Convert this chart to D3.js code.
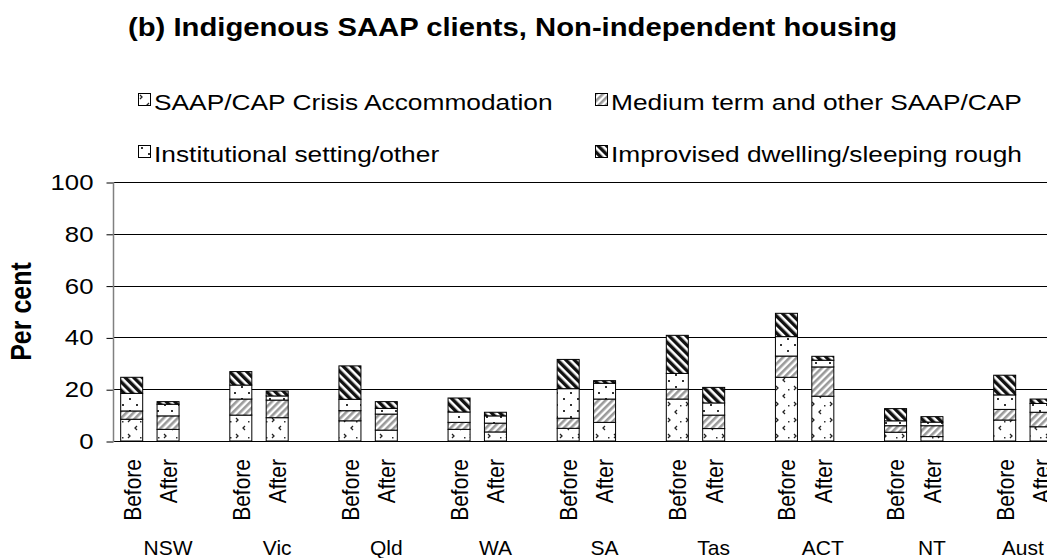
<!DOCTYPE html>
<html>
<head>
<meta charset="utf-8">
<script src="https://cdn.jsdelivr.net/npm/d3@7"></script>
<style>
  body { margin: 0; background: #fff; }
  svg { display: block; font-family: "Liberation Sans", Arial, sans-serif; }
</style>
</head>
<body>
<div class="chart"></div>
<script>
// Indigenous SAAP clients, non-independent housing: before / after support
let states = ["NSW", "Vic", "Qld", "WA", "SA", "Tas", "ACT", "NT", "Aust"];
let periods = ["Before", "After"];
let seriesNames = ["SAAP/CAP Crisis Accommodation", "Medium term and other SAAP/CAP",
                   "Institutional setting/other", "Improvised dwelling/sleeping rough"];
let yTicks = [0, 20, 40, 60, 80, 100];

// values per state, Before then After (per cent)
let crisis        = [8.4, 4.5, 10.0, 9.0, 7.8, 4.2, 4.5, 3.5, 4.9, 7.2, 16.2, 4.8, 24.6, 17.3, 3.4, 1.7, 8.1, 5.5];
let medium        = [3.2, 5.2, 6.2, 6.8, 3.9, 6.2, 2.7, 3.4, 3.9, 9.0, 3.8, 5.2, 8.2, 11.3, 2.5, 4.2, 4.1, 5.6];
let institutional = [6.8, 4.5, 5.4, 1.6, 4.4, 2.2, 4.0, 2.8, 11.4, 6.1, 6.1, 4.7, 7.5, 2.6, 1.9, 1.4, 5.6, 3.4];
let improvised    = [6.2, 1.0, 5.2, 1.9, 12.9, 2.6, 5.4, 1.4, 11.3, 1.0, 14.7, 6.0, 9.0, 1.5, 4.7, 2.1, 7.6, 1.7];

let svgWidth = 1047;
let svgHeight = 558;
let SX = 1.17; // text in the original is a little stretched horizontally

let svg = d3.select(".chart")
  .append("svg")
  .attr("width", svgWidth)
  .attr("height", svgHeight);

// patterns
let defs = svg.append("defs");

let pCrisis = defs.append("pattern").attr("id", "p0")
  .attr("patternUnits", "userSpaceOnUse").attr("width", 18).attr("height", 16);
pCrisis.append("rect").attr("width", 18).attr("height", 16).attr("fill", "#fff");
pCrisis.append("path").attr("d", "M2,2 L4,4 L2,6 M11,10 L9,12 L11,14")
  .attr("stroke", "#222").attr("stroke-width", 1.3).attr("fill", "none");
pCrisis.append("rect").attr("x", 14).attr("y", 5).attr("width", 1.5).attr("height", 1.5).attr("fill", "#333");

let pMedium = defs.append("pattern").attr("id", "p1")
  .attr("patternUnits", "userSpaceOnUse").attr("width", 5).attr("height", 5)
  .attr("patternTransform", "rotate(45)");
pMedium.append("rect").attr("width", 5).attr("height", 5).attr("fill", "#fff");
pMedium.append("rect").attr("width", 2.6).attr("height", 5).attr("fill", "#9a9a9a");

let pInst = defs.append("pattern").attr("id", "p2")
  .attr("patternUnits", "userSpaceOnUse").attr("width", 14).attr("height", 12);
pInst.append("rect").attr("width", 14).attr("height", 12).attr("fill", "#fff");
pInst.append("rect").attr("x", 3).attr("y", 2).attr("width", 2).attr("height", 2).attr("fill", "#333");
pInst.append("rect").attr("x", 10).attr("y", 8).attr("width", 2).attr("height", 2).attr("fill", "#333");

let pImpro = defs.append("pattern").attr("id", "p3")
  .attr("patternUnits", "userSpaceOnUse").attr("width", 6).attr("height", 6)
  .attr("patternTransform", "rotate(-45)");
pImpro.append("rect").attr("width", 6).attr("height", 6).attr("fill", "#fff");
pImpro.append("rect").attr("width", 3.4).attr("height", 6).attr("fill", "#111");

// title
svg.append("text")
  .attr("transform", `translate(128, 36) scale(${SX},1)`)
  .attr("font-size", 25)
  .attr("font-weight", "bold")
  .text("(b) Indigenous SAAP clients, Non-independent housing");

// legend
let legendPos = [[138, 93], [595, 93], [138, 145], [595, 145]];
seriesNames.forEach(function(name, i) {
  let g = svg.append("g").attr("transform", `translate(${legendPos[i][0]}, ${legendPos[i][1]})`);
  g.append("rect").attr("x", 0.5).attr("y", 0.5).attr("width", 12).attr("height", 12)
    .attr("fill", `url(#p${i})`).attr("stroke", "#000").attr("stroke-width", 1);
  g.append("text")
    .attr("transform", `translate(16, 17) scale(${SX},1)`)
    .attr("font-size", 22.5)
    .text(name);
});

// slots: Before, After, gap for every state (no gap after the last one)
let slots = [];
states.forEach(function(s, i) {
  periods.forEach(p => slots.push(s + "|" + p));
  if (i < states.length - 1) slots.push(s + "|gap");
});

let rows = [];
states.forEach(function(s, i) {
  periods.forEach(function(p, j) {
    let k = i * 2 + j;
    rows.push({ key: s + "|" + p, state: s, period: p,
      s0: crisis[k], s1: medium[k], s2: institutional[k], s3: improvised[k] });
  });
});

let x = d3.scaleBand()
  .domain(slots)
  .range([113.5, 113.5 + 36.375 * slots.length])
  .paddingInner(0.395)
  .paddingOuter(0.1975);

let y = d3.scaleLinear().domain([0, 100]).range([441, 182]);

// gridlines
svg.append("g").selectAll("line")
  .data(yTicks)
  .enter()
  .append("line")
  .attr("x1", 113).attr("x2", svgWidth)
  .attr("y1", d => Math.round(y(d)) + 0.5).attr("y2", d => Math.round(y(d)) + 0.5)
  .attr("stroke", "#000").attr("stroke-width", 1);

// y axis
let leftAxis = d3.axisLeft(y).tickValues(yTicks).tickSize(7).tickPadding(10.1);
let axisG = svg.append("g").attr("transform", "translate(113.5, 0.5)").call(leftAxis);
axisG.select(".domain").remove();
axisG.selectAll(".tick line").attr("stroke", "#000");
axisG.selectAll(".tick text")
  .attr("font-size", 22)
  .attr("font-family", "'Liberation Sans', Arial, sans-serif")
  .attr("fill", "#000")
  .attr("transform", `scale(${SX},1)`);
svg.append("line")
  .attr("x1", 113.5).attr("x2", 113.5).attr("y1", y(100)).attr("y2", y(0) + 1)
  .attr("stroke", "#808080").attr("stroke-width", 1.5);

svg.append("text")
  .attr("transform", `translate(31, ${(y(0) + y(100)) / 2}) scale(${SX},1) rotate(-90)`)
  .attr("text-anchor", "middle")
  .attr("font-size", 25)
  .attr("font-weight", "bold")
  .text("Per cent");

// stacked bars
let stack = d3.stack().keys(["s0", "s1", "s2", "s3"]);
let layers = stack(rows);

svg.append("g").selectAll("g")
  .data(layers)
  .enter()
  .append("g")
  .attr("fill", (d, i) => `url(#p${i})`)
  .selectAll("rect")
  .data(d => d)
  .enter()
  .append("rect")
  .attr("x", d => x(d.data.key))
  .attr("width", x.bandwidth())
  .attr("y", d => y(d[1]))
  .attr("height", d => y(d[0]) - y(d[1]))
  .attr("stroke", "#000")
  .attr("stroke-width", 1);

// period labels
svg.append("g").selectAll("text")
  .data(rows)
  .enter()
  .append("text")
  .attr("transform", d => `translate(${x(d.key) + x.bandwidth() / 2}, 459) scale(${SX},1) rotate(-90)`)
  .attr("dy", "0.36em")
  .attr("text-anchor", "end")
  .attr("font-size", 21)
  .text(d => d.period);

// state labels, centred under their slots
svg.append("g").selectAll("text")
  .data(states)
  .enter()
  .append("text")
  .attr("x", function(s) {
    let a = x(s + "|Before");
    let last = slots.indexOf(s + "|gap") >= 0 ? x(s + "|gap") : x(s + "|After");
    let step = x.step();
    return (a - x.paddingOuter() * step + last + x.bandwidth() + x.paddingOuter() * step) / 2;
  })
  .attr("y", 555)
  .attr("text-anchor", "middle")
  .attr("font-size", 21)
  .text(d => d);
</script>
</body>
</html>
